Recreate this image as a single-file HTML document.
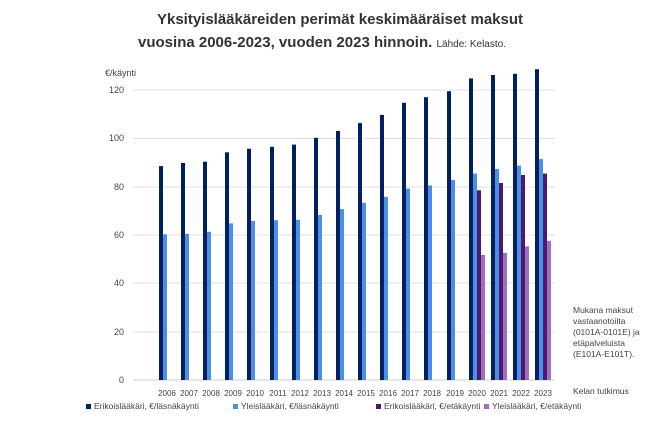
<!DOCTYPE html>
<html><head><meta charset="utf-8"><style>
body{margin:0;background:#fff;font-family:"Liberation Sans",sans-serif;}
</style></head><body>
<svg width="650" height="430" xmlns="http://www.w3.org/2000/svg" font-family="Liberation Sans, sans-serif">
<rect width="650" height="430" fill="#fff"/>
<text x="340" y="24" text-anchor="middle" font-size="15" font-weight="bold" fill="#333">Yksityislääkäreiden perimät keskimääräiset maksut</text>
<text x="322" y="47" text-anchor="middle" font-size="15" font-weight="bold" fill="#333">vuosina 2006-2023, vuoden 2023 hinnoin. <tspan font-size="10" font-weight="normal">Lähde: Kelasto.</tspan></text>
<text x="105" y="76" font-size="9" fill="#444">€/käynti</text>
<g stroke="#e0e0e0" stroke-width="1">
<line x1="133" x2="555" y1="90" y2="90"/><line x1="133" x2="555" y1="138.5" y2="138.5"/>
<line x1="133" x2="555" y1="187" y2="187"/><line x1="133" x2="555" y1="235" y2="235"/>
<line x1="133" x2="555" y1="283" y2="283"/><line x1="133" x2="555" y1="332" y2="332"/>
<line x1="133" x2="555" y1="380" y2="380" stroke="#ccc"/>
</g>
<g font-size="9" fill="#444" text-anchor="end">
<text x="124" y="93">120</text><text x="124" y="141">100</text><text x="124" y="190">80</text>
<text x="124" y="238">60</text><text x="124" y="286">40</text><text x="124" y="335">20</text><text x="124" y="383">0</text>
</g>
<g fill="#002060">
<rect x="159" y="166.1" width="4" height="213.9"/><rect x="181" y="163" width="4" height="217"/>
<rect x="203" y="161.7" width="4" height="218.3"/><rect x="225" y="152.3" width="4" height="227.7"/>
<rect x="247" y="148.7" width="4" height="231.3"/><rect x="270" y="146.8" width="4" height="233.2"/>
<rect x="292" y="144.6" width="4" height="235.4"/><rect x="314" y="137.8" width="4" height="242.2"/>
<rect x="336" y="131" width="4" height="249"/><rect x="358" y="123.1" width="4" height="256.9"/>
<rect x="380" y="114.9" width="4" height="265.1"/><rect x="402" y="102.8" width="4" height="277.2"/>
<rect x="424" y="97.2" width="4" height="282.8"/><rect x="447" y="91.2" width="4" height="288.8"/>
<rect x="469" y="78.4" width="4" height="301.6"/><rect x="491" y="75" width="4" height="305"/>
<rect x="513" y="73.8" width="4" height="306.2"/><rect x="535" y="69.2" width="4" height="310.8"/>
</g>
<g fill="#4a8fe8">
<rect x="163" y="234.3" width="4" height="145.7"/><rect x="185" y="233.8" width="4" height="146.2"/>
<rect x="207" y="231.8" width="4" height="148.2"/><rect x="229" y="223.4" width="4" height="156.6"/>
<rect x="251" y="221" width="4" height="159"/><rect x="274" y="220.2" width="4" height="159.8"/>
<rect x="296" y="219.8" width="4" height="160.2"/><rect x="318" y="214.9" width="4" height="165.1"/>
<rect x="340" y="209.1" width="4" height="170.9"/><rect x="362" y="202.8" width="4" height="177.2"/>
<rect x="384" y="196.8" width="4" height="183.2"/><rect x="406" y="188.6" width="4" height="191.4"/>
<rect x="428" y="185.4" width="4" height="194.6"/><rect x="451" y="179.9" width="4" height="200.1"/>
<rect x="473" y="173.6" width="4" height="206.4"/><rect x="495" y="169" width="4" height="211"/>
<rect x="517" y="165.6" width="4" height="214.4"/><rect x="539" y="159.1" width="4" height="220.9"/>
</g>
<g fill="#4b1a6e">
<rect x="477" y="190.3" width="4" height="189.7"/><rect x="499" y="183" width="4" height="197"/>
<rect x="521" y="175" width="4" height="205"/><rect x="543" y="173.6" width="4" height="206.4"/>
</g>
<g fill="#a070c0">
<rect x="481" y="255" width="4" height="125"/><rect x="503" y="252.9" width="4" height="127.1"/>
<rect x="525" y="246.3" width="4" height="133.7"/><rect x="547" y="240.8" width="4" height="139.2"/>
</g>
<g font-size="8" fill="#444" text-anchor="middle">
<text x="167" y="396">2006</text><text x="189" y="396">2007</text><text x="211" y="396">2008</text>
<text x="233" y="396">2009</text><text x="255" y="396">2010</text><text x="278" y="396">2011</text>
<text x="300" y="396">2012</text><text x="322" y="396">2013</text><text x="344" y="396">2014</text>
<text x="366" y="396">2015</text><text x="388" y="396">2016</text><text x="410" y="396">2017</text>
<text x="432" y="396">2018</text><text x="455" y="396">2019</text><text x="477" y="396">2020</text>
<text x="499" y="396">2021</text><text x="521" y="396">2022</text><text x="543" y="396">2023</text>
</g>
<g font-size="8.5" fill="#444">
<text x="573" y="313">Mukana maksut</text><text x="573" y="324">vastaanotoilta</text>
<text x="573" y="335">(0101A-0101E) ja</text><text x="573" y="346">etäpalveluista</text>
<text x="573" y="357">(E101A-E101T).</text>
<text x="573" y="394">Kelan tutkimus</text>
</g>
<g font-size="8.5" fill="#444">
<rect x="86" y="404" width="5" height="5" fill="#002060"/><text x="94" y="409">Erikoislääkäri,  €/läsnäkäynti</text>
<rect x="233" y="404" width="5" height="5" fill="#4a8fe8"/><text x="241" y="409">Yleislääkäri, €/läsnäkäynti</text>
<rect x="376" y="404" width="5" height="5" fill="#4b1a6e"/><text x="384" y="409">Erikoislääkäri,  €/etäkäynti</text>
<rect x="484" y="404" width="5" height="5" fill="#a070c0"/><text x="492" y="409">Yleislääkäri, €/etäkäynti</text>
</g>
</svg>
</body></html>
